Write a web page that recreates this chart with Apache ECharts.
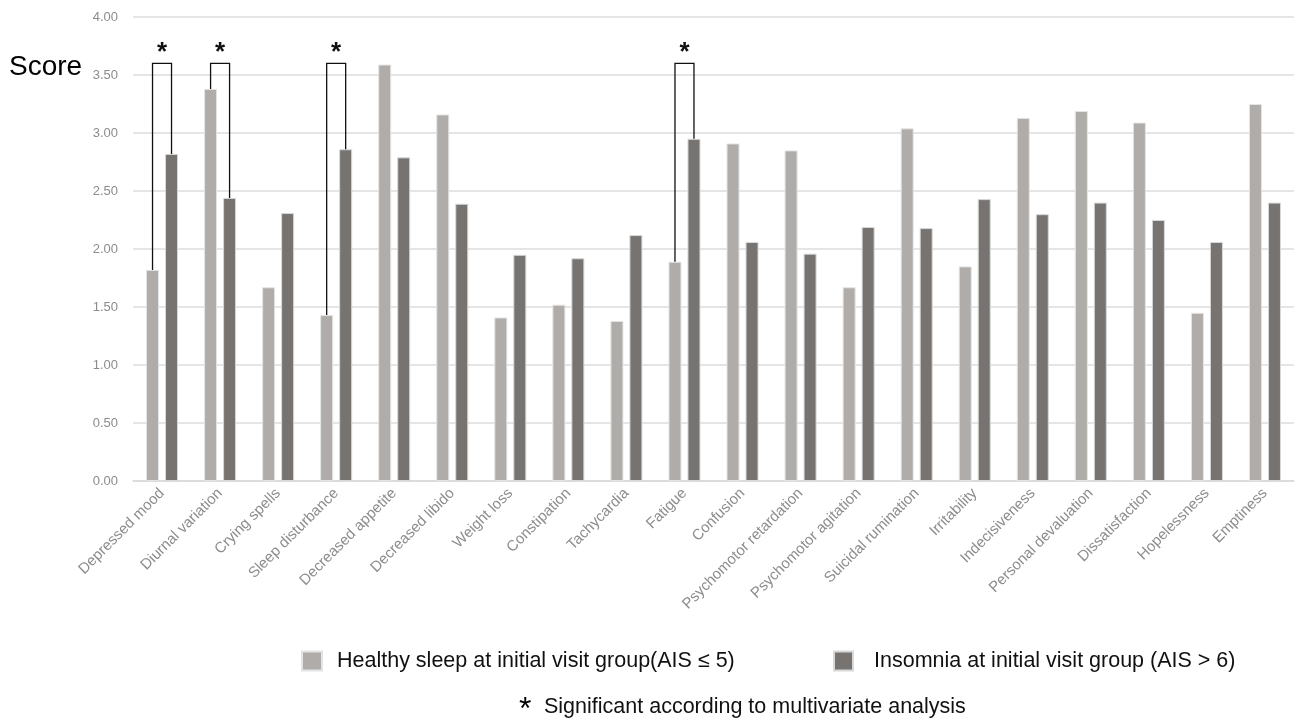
<!DOCTYPE html>
<html>
<head>
<meta charset="utf-8">
<script src="https://cdn.jsdelivr.net/npm/echarts@6/dist/echarts.min.js"></script>
<style>
html,body{margin:0;padding:0;background:#fff;}
#chart{width:1299px;height:719px;}
</style>
</head>
<body>
<div id="chart"></div>
<script>
const categories = ['Depressed mood','Diurnal variation','Crying spells','Sleep disturbance','Decreased appetite','Decreased libido','Weight loss','Constipation','Tachycardia','Fatigue','Confusion','Psychomotor retardation','Psychomotor agitation','Suicidal rumination','Irritability','Indecisiveness','Personal devaluation','Dissatisfaction','Hopelessness','Emptiness'];
const healthySleep = [1.82, 3.38, 1.67, 1.43, 3.59, 3.16, 1.41, 1.52, 1.38, 1.89, 2.91, 2.85, 1.67, 3.04, 1.85, 3.13, 3.19, 3.09, 1.45, 3.25];
const insomnia = [2.82, 2.44, 2.31, 2.86, 2.79, 2.39, 1.95, 1.92, 2.12, 2.95, 2.06, 1.96, 2.19, 2.18, 2.43, 2.30, 2.40, 2.25, 2.06, 2.40];
const significant = ['Depressed mood','Diurnal variation','Sleep disturbance','Fatigue'];
const bracketTop = 3.6;
const yTicks = {min: 0, max: 4, interval: 0.5};
const seriesNames = ['Healthy sleep at initial visit group(AIS \u2264 5)', 'Insomnia at initial visit group (AIS > 6)'];
const footnote = 'Significant according to multivariate analysis';

const BAR_W = 13, BAR_GAP = 6;
const LIGHT = '#afaca9', DARK = '#767370';
const FONT = 'Liberation Sans, Arial';

const bracketData = significant.map(name => {
  const i = categories.indexOf(name);
  return [i, healthySleep[i], insomnia[i], bracketTop];
});

const chart = echarts.init(document.getElementById('chart'), null, {renderer: 'canvas'});
chart.setOption({
  animation: false,
  backgroundColor: '#fff',
  grid: {left: 133, right: 5, top: 17, bottom: 238, containLabel: false},
  legend: [
    {data: [seriesNames[0]], left: 301, top: 650, padding: 0, itemWidth: 20, itemHeight: 19, icon: 'rect',
     textStyle: {fontFamily: FONT, fontSize: 21.5, color: '#111', padding: [0,0,0,10]}},
    {data: [seriesNames[1]], left: 833, top: 650, padding: 0, itemWidth: 19, itemHeight: 19, icon: 'rect',
     textStyle: {fontFamily: FONT, fontSize: 21.5, color: '#111', padding: [0,0,0,16]}}
  ],
  xAxis: {
    type: 'category', data: categories,
    axisLine: {show: true, lineStyle: {color: '#d9d9d9', width: 1.5}},
    axisTick: {show: false},
    axisLabel: {rotate: 45, interval: 0, margin: 10, color: '#8c8c8c', fontSize: 15, fontFamily: FONT}
  },
  yAxis: {
    type: 'value', min: yTicks.min, max: yTicks.max, interval: yTicks.interval,
    axisLine: {show: false}, axisTick: {show: false},
    splitLine: {lineStyle: {color: '#dcdcdc', width: 1.5}},
    axisLabel: {color: '#8c8c8c', fontSize: 13, margin: 15, fontFamily: FONT, formatter: v => v.toFixed(2)}
  },
  graphic: [
    {type: 'text', left: 9, top: 53, style: {text: 'Score', fontSize: 28, fontFamily: FONT, fill: '#000'}},
    {type: 'text', left: 519, top: 694, style: {text: '*', fontSize: 32, fontFamily: FONT, fill: '#000'}},
    {type: 'text', left: 544, top: 696, style: {text: footnote, fontSize: 21.5, fontFamily: FONT, fill: '#111'}}
  ],
  series: [
    {name: seriesNames[0], type: 'bar', data: healthySleep, barWidth: BAR_W, barGap: (BAR_GAP / BAR_W * 100) + '%',
     itemStyle: {color: LIGHT, borderColor: '#e4e4e4', borderWidth: 1}},
    {name: seriesNames[1], type: 'bar', data: insomnia, barWidth: BAR_W,
     itemStyle: {color: DARK, borderColor: '#d8d8d8', borderWidth: 1}},
    {type: 'custom', data: bracketData, silent: true, z: 10,
     renderItem: function(params, api) {
       const off = (BAR_W + BAR_GAP) / 2;
       const c = api.value(0);
       const pL = api.coord([c, api.value(1)]);
       const pR = api.coord([c, api.value(2)]);
       const pT = api.coord([c, api.value(3)]);
       const xl = pL[0] - off, xr = pR[0] + off;
       return {
         type: 'group',
         children: [
           {type: 'polyline', shape: {points: [[xl, pL[1]], [xl, pT[1]], [xr, pT[1]], [xr, pR[1]]]},
            style: {stroke: '#111', lineWidth: 1.3, fill: null}},
           {type: 'text', style: {text: '*', x: (xl + xr) / 2, y: pT[1] - 11, textAlign: 'center', textVerticalAlign: 'middle',
             fontSize: 26, fontWeight: 'bold', fontFamily: FONT, fill: '#111'}}
         ]
       };
     }}
  ]
});
</script>
</body>
</html>
